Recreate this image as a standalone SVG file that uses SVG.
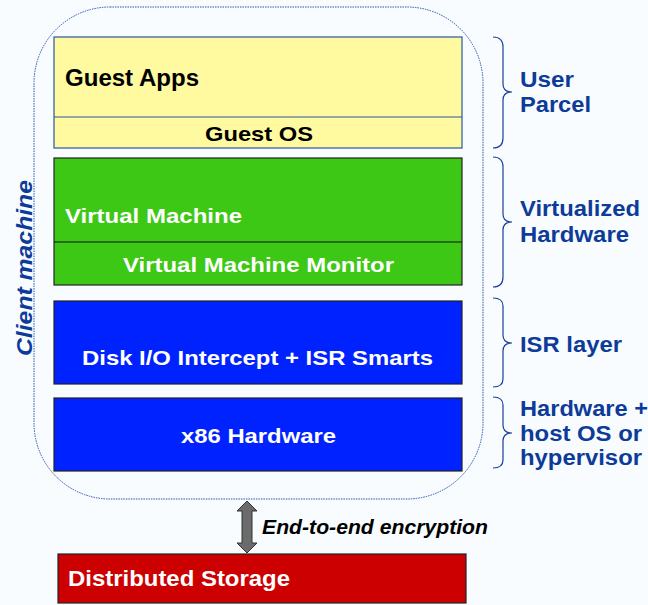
<svg xmlns="http://www.w3.org/2000/svg" width="648" height="605" viewBox="0 0 648 605">
<defs>
<style>
.t{font-family:"Liberation Sans",Arial,sans-serif;font-weight:bold}
.w{fill:#ffffff}
.k{fill:#000000}
.lb{fill:#0d3b99;font-size:22px}
.br{fill:none;stroke:#1a3f9a;stroke-width:1.2}
.box{stroke-width:1.2}
</style>
</defs>
<rect width="648" height="605" fill="#f9fcfe"/>
<rect x="34" y="7" width="449" height="492" rx="76" ry="76" fill="none" stroke="#2a55b0" stroke-width="1" stroke-dasharray="1.5 1"/>
<text class="t" font-style="italic" font-size="22" fill="#0d3b99" transform="translate(24,268) rotate(-90)" text-anchor="middle" dy="8" textLength="176" lengthAdjust="spacingAndGlyphs">Client machine</text>
<g id="guest">
<rect class="box" x="54" y="37" width="408" height="111" fill="#fffaa0" stroke="#2a55a0"/>
<line x1="54" y1="117" x2="462" y2="117" stroke="#2a55a0" stroke-width="1.2"/>
<text class="t k" x="65" y="86" font-size="23" textLength="134" lengthAdjust="spacingAndGlyphs">Guest Apps</text>
<text class="t k" x="205" y="141" font-size="21" textLength="108" lengthAdjust="spacingAndGlyphs">Guest OS</text>
</g>
<g id="vm">
<rect class="box" x="54" y="158" width="408" height="127" fill="#3cc814" stroke="#222"/>
<line x1="54" y1="242" x2="462" y2="242" stroke="#111" stroke-width="1.2"/>
<text class="t w" x="65" y="223" font-size="21" textLength="177" lengthAdjust="spacingAndGlyphs">Virtual Machine</text>
<text class="t w" x="123" y="272" font-size="21" textLength="271" lengthAdjust="spacingAndGlyphs">Virtual Machine Monitor</text>
</g>
<g id="isr">
<rect class="box" x="54" y="301" width="408" height="83" fill="#0022ff" stroke="#222"/>
<text class="t w" x="82" y="365" font-size="21" textLength="351" lengthAdjust="spacingAndGlyphs">Disk I/O Intercept + ISR Smarts</text>
</g>
<g id="x86">
<rect class="box" x="54" y="398" width="408" height="73" fill="#0022ff" stroke="#222"/>
<text class="t w" x="181" y="443" font-size="21" textLength="155" lengthAdjust="spacingAndGlyphs">x86 Hardware</text>
</g>
<g id="storage">
<rect class="box" x="58" y="554" width="408" height="49" fill="#cc0000" stroke="#222"/>
<text class="t w" x="68" y="586" font-size="22" textLength="222" lengthAdjust="spacingAndGlyphs">Distributed Storage</text>
</g>
<g id="connectors">
<polygon points="247,501 257,511 252,511 252,543 257,543 247,553 237,543 242,543 242,511 237,511" fill="#6b6b6b" stroke="#333" stroke-width="1"/>
<text class="t k" x="262" y="534" font-size="21" font-style="italic" textLength="226" lengthAdjust="spacingAndGlyphs">End-to-end encryption</text>
</g>
<g id="braces">
<path class="br" d="M493,37 Q503,37 503,47 L503,84 Q503,92 512,92 Q503,92 503,100 L503,138 Q503,148 493,148"/>
<path class="br" d="M493,157 Q503,157 503,167 L503,214 Q503,222 512,222 Q503,222 503,230 L503,277 Q503,287 493,287"/>
<path class="br" d="M493,298 Q503,298 503,306 L503,335 Q503,343 512,343 Q503,343 503,351 L503,379 Q503,387 493,387"/>
<path class="br" d="M493,397 Q503,397 503,405 L503,425 Q503,433 512,433 Q503,433 503,441 L503,460 Q503,468 493,468"/>
</g>
<g id="labels">
<text class="t lb" x="520" y="87" textLength="54" lengthAdjust="spacingAndGlyphs">User</text>
<text class="t lb" x="520" y="112" textLength="71" lengthAdjust="spacingAndGlyphs">Parcel</text>
<text class="t lb" x="520" y="216" textLength="120" lengthAdjust="spacingAndGlyphs">Virtualized</text>
<text class="t lb" x="520" y="242" textLength="109" lengthAdjust="spacingAndGlyphs">Hardware</text>
<text class="t lb" x="520" y="352" textLength="102" lengthAdjust="spacingAndGlyphs">ISR layer</text>
<text class="t lb" x="520" y="416" textLength="128" lengthAdjust="spacingAndGlyphs">Hardware +</text>
<text class="t lb" x="520" y="441" textLength="122" lengthAdjust="spacingAndGlyphs">host OS or</text>
<text class="t lb" x="520" y="465" textLength="122" lengthAdjust="spacingAndGlyphs">hypervisor</text>
</g>
</svg>
